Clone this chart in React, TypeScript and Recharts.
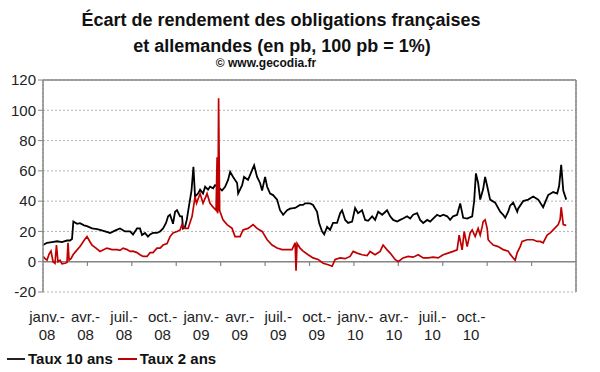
import React from 'react';
import {
  CartesianGrid,
  Line,
  LineChart,
  ReferenceLine,
  XAxis,
  YAxis,
} from 'recharts';

// months since janv. 2008 / spread in pb
const MONTHS_10 = [
  0, 0.27, 0.61, 0.95, 1.28, 1.62, 1.82, 1.96, 2.05, 2.3, 2.5, 2.77, 2.97, 3.31, 3.65, 3.85,
  4.19, 4.53, 4.86, 5.2, 5.54, 5.88, 6.08, 6.35, 6.55, 6.69, 6.89, 7.09, 7.23, 7.43, 7.7, 7.91,
  8.11, 8.31, 8.45, 8.58, 8.72, 8.78, 8.92, 9.05, 9.26, 9.39, 9.46, 9.59,
  9.71, 9.93, 10.03, 10.16, 10.27, 10.47, 10.61, 10.81, 10.95, 11.15, 11.28, 11.49, 11.62, 11.82,
  12.09, 12.3, 12.5, 12.64, 12.84, 13.11, 13.18, 13.45, 13.58, 13.85, 14.12, 14.26, 14.46, 14.66,
  14.8, 15.0, 15.14, 15.34, 15.54, 15.81, 16.01, 16.22, 16.49, 16.69, 17.03, 17.36, 17.57,
  17.7, 18.04, 18.24, 18.51, 18.65, 18.85, 18.99, 19.19, 19.39, 19.59, 19.86, 20.07, 20.2, 20.41,
  20.61, 20.88, 21.08, 21.28, 21.55, 21.76, 21.96, 22.23, 22.43, 22.64, 22.91, 23.24, 23.45, 23.65,
  23.92, 24.12, 24.32, 24.59, 24.8, 25.0, 25.27, 25.47, 25.68, 25.95, 26.15, 26.35, 26.62, 26.82,
  27.03, 27.3, 27.5, 27.7, 27.97, 28.18, 28.38, 28.65,
  28.99, 29.12, 29.24, 29.39, 29.53, 29.73, 29.86, 30.0, 30.2, 30.54, 30.88, 31.08, 31.22,
  31.42, 31.55, 31.76, 32.03, 32.09, 32.43, 32.77, 33.11, 33.45, 33.78, 34.12, 34.46, 34.73, 34.86,
  35.0, 35.14, 35.34,
];
const TAUX_10 = [
  11, 12.5, 13, 13.5, 13, 14, 14, 15, 26.5, 25, 25.5, 24, 23.5, 22, 21.5, 21,
  20, 19, 20.5, 22, 20, 20, 18, 22, 22, 17.6, 19, 16.6, 18, 19, 19, 20,
  22, 25.6, 30, 31, 27, 25, 33, 34, 30, 30, 22, 23,
  27.6, 41, 47, 62.7, 43, 45, 47.6, 45, 49.5, 47.6, 49.5, 48.5, 50.5, 49.5,
  47, 49.5, 54, 59.4, 56, 52, 45, 50.5, 56, 54, 60.5, 63.7, 56, 52,
  47, 56, 49.5, 45, 44, 41, 34, 31, 34, 35, 35.5, 37.5, 37.5,
  38.5, 38.5, 37.5, 33, 25.6, 20, 18, 23, 21, 25.6, 25.6, 32, 34, 27.6,
  25.6, 26.5, 35.5, 32, 34, 27.6, 27, 30, 27.6, 33, 31, 34, 30, 27.6,
  26.5, 27.6, 28.5, 30, 28.5, 31, 32, 27.6, 25.6, 27.6, 26.5, 28.5, 31, 30,
  31, 30, 27.6, 30, 31, 38.5, 29, 28.5,
  30, 40, 58.3, 52, 41, 48, 56, 50, 41, 39, 33, 31, 29,
  33, 37, 39, 33, 35, 40, 41, 43, 41, 36, 44, 46, 45, 50,
  64, 47, 41,
];

const MONTHS_2 = [
  0, 0.14, 0.27, 0.41, 0.54, 0.68, 0.81, 0.91, 1.01, 1.15, 1.28, 1.49, 1.62, 1.69, 1.76, 1.89,
  2.03, 2.23, 2.5, 2.77, 2.97, 3.18, 3.31, 3.58, 3.85, 4.12, 4.32, 4.66, 5.0, 5.2, 5.41, 5.68,
  5.88, 6.08, 6.35, 6.55, 6.76, 7.03, 7.23, 7.43, 7.7, 7.91, 8.11, 8.38, 8.58, 8.78, 9.05, 9.26,
  9.39, 9.46, 9.59, 9.8, 10.07, 10.27, 10.37, 10.61, 10.81, 11.08, 11.28, 11.49, 11.69,
  11.76, 11.79, 11.82, 11.86, 11.93, 11.96, 12.16, 12.43, 12.77, 12.97, 13.31, 13.51, 13.85, 14.19,
  14.46, 14.8, 15.14, 15.47, 15.81, 16.15, 16.49, 16.82, 17.03, 17.09, 17.16, 17.36, 17.57,
  17.91, 18.24, 18.58, 18.92, 19.26, 19.53, 19.73, 20.07, 20.41, 20.74, 20.95, 21.22, 21.55, 21.89,
  22.09, 22.43, 22.77, 22.97, 23.24, 23.45, 23.78, 23.99, 24.32, 24.66, 25.0, 25.34, 25.68, 26.01,
  26.35, 26.69, 27.03, 27.36, 27.7, 27.97, 28.11, 28.31, 28.45, 28.65,
  28.85, 28.99, 29.19, 29.39, 29.53, 29.66, 29.73, 29.86, 30.0, 30.07, 30.2, 30.41, 30.74, 31.08,
  31.42, 31.55, 31.76, 31.89, 32.03, 32.23, 32.36, 32.7, 33.11, 33.38, 33.58, 33.78, 34.05, 34.26,
  34.46, 34.8, 34.93, 35.0, 35.14, 35.34,
];
const TAUX_2 = [
  3.5, 2, 1, 5, 7, 0, -1, 11, 0, 1, -1.4, -1, -0.5, 12.5, 1, 2,
  4.6, 7, 10, 14, 16.6, 13, 11, 9, 6.8, 8, 9, 8, 8, 7.5, 9, 8,
  6.8, 7, 6, 4.6, 3.5, 3.5, 6, 6, 9, 9, 11, 12, 16.6, 19, 20, 21,
  24.5, 23, 22, 22, 30, 43, 38.6, 45, 38.6, 45, 38.6, 36, 34,
  69, 32, 34, 108, 34, 33, 27.6, 24.5, 22, 16.6, 16.6, 21, 22, 24.5,
  22, 20, 14.5, 11, 9, 8, 8, 8, 12.5, -6, 12, 9, 7,
  4.6, 2.5, 1.5, -1, -2, -3, 1.5, 2.5, 2, 3.5, 6.8, 5.7, 4.6, 4,
  6.8, 4.6, 6.8, 11, 7.8, 5.7, 1.5, 0, 2.5, 3.5, 3, 4.6, 2.5, 2.5,
  3, 2.5, 4.6, 5.7, 6.8, 7.8, 17.6, 7.8, 20, 10,
  19, 21, 16.6, 22, 17.6, 23, 26.5, 27.6, 22, 14.5, 13, 11, 10, 8,
  7, 5, 2.5, 1, 6, 10, 13.4, 14.5, 14.5, 13.4, 13.4, 12.5, 17.6, 19,
  21, 24.5, 28, 36, 24.5, 24,
];

const QUARTERS = [0, 3, 6, 9, 12, 15, 18, 21, 24, 27, 30, 33, 36];
const QUARTER_NAMES = ['janv.-', 'avr.-', 'juil.-', 'oct.-', 'janv.-', 'avr.-', 'juil.-', 'oct.-', 'janv.-', 'avr.-', 'juil.-', 'oct.-'];
const QUARTER_YEARS = ['08', '08', '08', '08', '09', '09', '09', '09', '10', '10', '10', '10'];
const Y_TICKS = [-20, 0, 20, 40, 60, 80, 100, 120];

const series10 = MONTHS_10.map((t, i) => ({ t, v: TAUX_10[i] }));
const series2 = MONTHS_2.map((t, i) => ({ t, v: TAUX_2[i] }));
const labelRows = QUARTER_NAMES.map((_, i) => ({ q: i }));

const FONT = '"Liberation Sans", Arial, sans-serif';
const AXIS = '#868686';
const RED = '#c00000';

function QuarterLabel({ x, y, payload }: any) {
  const i = payload.value;
  return (
    <text x={x} y={y} textAnchor="middle" fontSize={15} fontFamily={FONT} fill="#222">
      <tspan x={x} dy={30}>{QUARTER_NAMES[i]}</tspan>
      <tspan x={x} dy={18}>{QUARTER_YEARS[i]}</tspan>
    </text>
  );
}

export default function App() {
  return (
    <div style={{ position: 'absolute', left: 0, top: 0, width: 600, height: 372, background: '#fff', fontFamily: FONT }}>
      <div style={{ position: 'absolute', top: 11, left: 0, width: 562, textAlign: 'center', fontSize: 18, lineHeight: '18px', fontWeight: 'bold', color: '#111' }}>
        Écart de rendement des obligations françaises
      </div>
      <div style={{ position: 'absolute', top: 37, left: 0, width: 564, textAlign: 'center', fontSize: 18, lineHeight: '18px', fontWeight: 'bold', color: '#111' }}>
        et allemandes (en pb, 100 pb = 1%)
      </div>
      <div style={{ position: 'absolute', top: 57, left: 0, width: 532, textAlign: 'center', fontSize: 12, lineHeight: '12px', fontWeight: 'bold', color: '#111' }}>
        © www.gecodia.fr
      </div>

      <LineChart width={600} height={372} margin={{ top: 80, right: 24, left: 0, bottom: 30 }}>
        <CartesianGrid stroke="#b4b4b4" strokeDasharray="2 2" />
        <XAxis
          type="number"
          dataKey="t"
          domain={[0, 36]}
          ticks={QUARTERS}
          interval={0}
          allowDataOverflow
          height={0}
          tick={false}
          tickLine={false}
          axisLine={{ stroke: AXIS, strokeWidth: 1.5 }}
        />
        <XAxis
          xAxisId="lbl"
          type="number"
          dataKey="q"
          domain={[-0.1038, 13.724]}
          ticks={QUARTER_NAMES.map((_, i) => i)}
          interval={0}
          allowDataOverflow
          height={50}
          tickSize={0}
          tickMargin={0}
          tickLine={false}
          axisLine={false}
          tick={QuarterLabel}
        />
        <YAxis
          type="number"
          domain={[-20, 120]}
          ticks={Y_TICKS}
          interval={0}
          width={43}
          tickSize={5}
          tickMargin={2}
          axisLine={{ stroke: AXIS, strokeWidth: 1.5 }}
          tickLine={{ stroke: AXIS }}
          tick={{ fontSize: 15, fontFamily: FONT, fill: '#222' }}
        />
        <ReferenceLine y={120} stroke={AXIS} strokeWidth={1.5} />
        <ReferenceLine x={36} stroke={AXIS} strokeWidth={1.5} />
        <ReferenceLine y={0} stroke={AXIS} strokeWidth={1.5} />
        {QUARTERS.slice(1, -1).map((q) => (
          <ReferenceLine key={q} segment={[{ x: q, y: 0 }, { x: q, y: -2.8 }]} stroke={AXIS} strokeWidth={1.2} />
        ))}
        <Line xAxisId="lbl" data={labelRows} dataKey="none" stroke="none" dot={false} legendType="none" isAnimationActive={false} />
        <Line data={series10} dataKey="v" stroke="#000" strokeWidth={1.8} dot={false} isAnimationActive={false} />
        <Line data={series2} dataKey="v" stroke={RED} strokeWidth={1.7} dot={false} isAnimationActive={false} />
      </LineChart>

      <div style={{ position: 'absolute', top: 350, left: 7, display: 'flex', alignItems: 'center', fontSize: 15, lineHeight: '18px', fontWeight: 'bold', color: '#111' }}>
        <span style={{ display: 'inline-block', width: 18, height: 2, background: '#222', marginRight: 3 }} />
        <span>Taux 10 ans</span>
        <span style={{ display: 'inline-block', width: 19, height: 2, background: RED, margin: '0 3px 0 5px' }} />
        <span>Taux 2 ans</span>
      </div>
    </div>
  );
}
